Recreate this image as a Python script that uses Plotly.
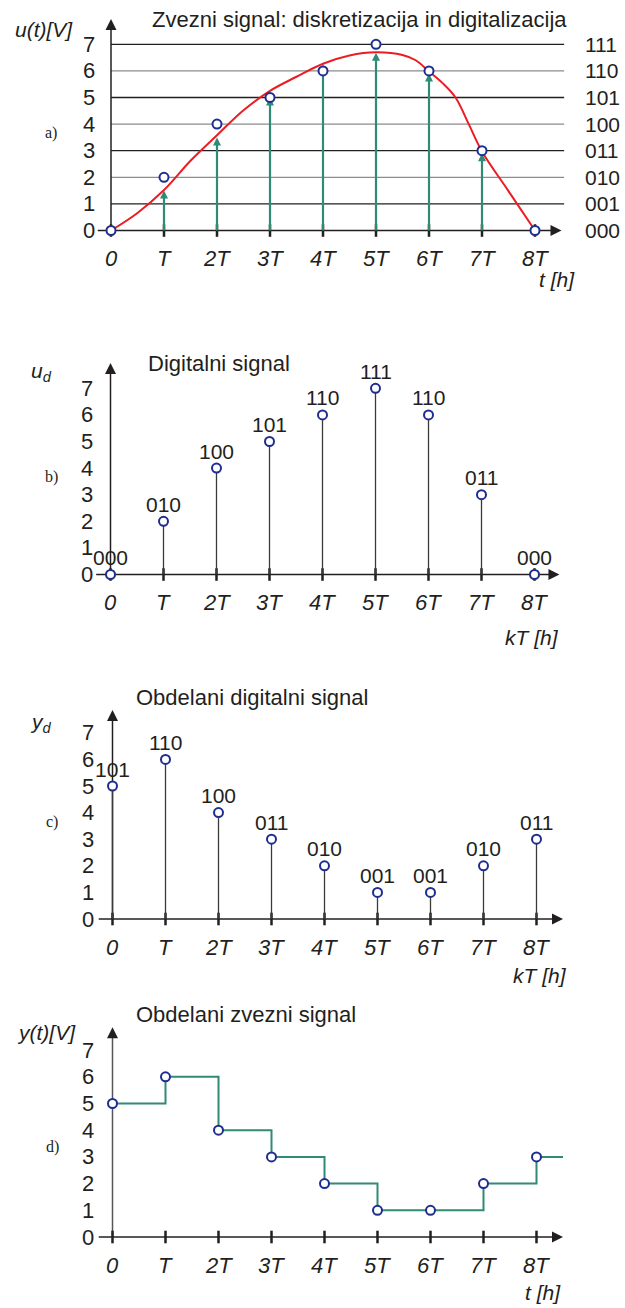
import plotly.graph_objects as go

# ---------------- data ----------------
k_idx = [0, 1, 2, 3, 4, 5, 6, 7, 8]
k_labels = ["0", "T", "2T", "3T", "4T", "5T", "6T", "7T", "8T"]
y_levels = [0, 1, 2, 3, 4, 5, 6, 7]
level_codes = ["000", "001", "010", "011", "100", "101", "110", "111"]

# continuous signal u(t)
curve_t = [0, 0.5, 1, 1.5, 2, 2.5, 3, 3.5, 4, 4.5, 5, 5.5, 5.75, 6, 6.25, 6.5, 6.75, 7, 7.5, 8]
curve_u = [0, 0.66, 1.52, 2.62, 3.58, 4.52, 5.25, 5.78, 6.27, 6.58, 6.7, 6.6, 6.4, 5.98, 5.55, 5.0, 4.0, 2.97, 1.48, 0]

# sampling arrows (tips) in panel a
arrow_k = [1, 2, 3, 4, 5, 6, 7]
arrow_tip = [1.5, 3.5, 5.0, 6.25, 6.68, 5.9, 2.9]

# quantized / digital signal
digital_u = [0, 2, 4, 5, 6, 7, 6, 3, 0]
digital_codes = ["000", "010", "100", "101", "110", "111", "110", "011", "000"]

# processed digital signal
processed_y = [5, 6, 4, 3, 2, 1, 1, 2, 3]
processed_codes = ["101", "110", "100", "011", "010", "001", "001", "010", "011"]

# ---------------- style ----------------
W, H = 625, 1308
FONT = "Liberation Sans, Arial, sans-serif"
SERIF = "Liberation Serif, Times New Roman, serif"
INK = "#231f20"
GRAY = "#8c8c8c"
TEAL = "#2f8a76"
RED = "#ec1c24"
BLUE = "#1f2d8f"

panels = [
    dict(top=0, bot=300, y0=230.5, unit=26.6, x0=111.0),
    dict(top=300, bot=650, y0=574.5, unit=26.6, x0=110.5),
    dict(top=650, bot=990, y0=919.0, unit=26.6, x0=112.5),
    dict(top=990, bot=1308, y0=1237.0, unit=26.7, x0=112.5),
]
XSTEP = 53.0

fig = go.Figure()
layout = dict(width=W, height=H, margin=dict(l=0, r=0, t=0, b=0),
              paper_bgcolor="white", plot_bgcolor="white", showlegend=False)
annotations = []

for i, p in enumerate(panels):
    s = "" if i == 0 else str(i + 1)
    layout["xaxis" + s] = dict(domain=[0, 1], range=[-p["x0"] / XSTEP, (W - p["x0"]) / XSTEP],
                              visible=False, anchor="y" + s, fixedrange=True)
    layout["yaxis" + s] = dict(domain=[1 - p["bot"] / H, 1 - p["top"] / H],
                              range=[(p["y0"] - p["bot"]) / p["unit"], (p["y0"] - p["top"]) / p["unit"]],
                              visible=False, anchor="x" + s, fixedrange=True)


def ax(i):
    s = "" if i == 0 else str(i + 1)
    return dict(xaxis="x" + s, yaxis="y" + s)


def txt(text, px, py, size=22, italic=False, anchor="center", family=FONT):
    t = "<i>%s</i>" % text if italic else text
    annotations.append(dict(text=t, x=px / W, y=1 - py / H, xref="paper", yref="paper",
                            xanchor=anchor, yanchor="middle", showarrow=False,
                            font=dict(family=family, size=size, color=INK)))


def axes(i, ytip, xl=-0.25, xr=8.5, ycolor=INK):
    a = ax(i)
    # y axis
    fig.add_trace(go.Scatter(x=[0, 0], y=[0, ytip - 0.2], mode="lines",
                             line=dict(color=ycolor, width=1.5), hoverinfo="skip", **a))
    fig.add_trace(go.Scatter(x=[0], y=[ytip], mode="markers",
                             marker=dict(symbol="arrow-up", size=11, color=INK), hoverinfo="skip", **a))
    # x axis
    fig.add_trace(go.Scatter(x=[xl, xr - 0.1], y=[0, 0], mode="lines",
                             line=dict(color=INK, width=1.5), hoverinfo="skip", **a))
    fig.add_trace(go.Scatter(x=[xr], y=[0], mode="markers",
                             marker=dict(symbol="arrow-right", size=11, color=INK), hoverinfo="skip", **a))
    # tick marks
    fig.add_trace(go.Scatter(x=k_idx, y=[0] * len(k_idx), mode="markers",
                             marker=dict(symbol="line-ns", size=9, line=dict(color=INK, width=2.5)),
                             hoverinfo="skip", **a))


def tick_labels(i, ylab_px=96, xoff=28):
    s = "" if i == 0 else str(i + 1)
    for v in y_levels:
        annotations.append(dict(text=str(v), x=ylab_px / W, xref="paper", y=v, yref="y" + s,
                                xanchor="right", yanchor="middle", showarrow=False,
                                font=dict(family=FONT, size=22, color=INK)))
    for k, lab in zip(k_idx, k_labels):
        annotations.append(dict(text="<i>%s</i>" % lab, x=k, xref="x" + s, y=0, yref="y" + s,
                                yshift=-xoff, xanchor="center", yanchor="middle", showarrow=False,
                                font=dict(family=FONT, size=22, color=INK)))


def circles(i, xs, ys):
    fig.add_trace(go.Scatter(x=xs, y=ys, mode="markers",
                             marker=dict(symbol="circle", size=9, color="white",
                                         line=dict(color=BLUE, width=2)),
                             cliponaxis=False, hoverinfo="skip", **ax(i)))


def codes_above(i, xs, ys, codes):
    s = "" if i == 0 else str(i + 1)
    for x, y, c in zip(xs, ys, codes):
        annotations.append(dict(text=c, x=x, y=y, xref="x" + s, yref="y" + s, yshift=17,
                                xanchor="center", yanchor="middle", showarrow=False,
                                font=dict(family=FONT, size=21, color=INK)))


# ---------------- panel a ----------------
a0 = ax(0)
for v in y_levels[1:]:
    fig.add_trace(go.Scatter(x=[0, 8.55], y=[v, v], mode="lines",
                             line=dict(color=INK if v % 2 else GRAY, width=1.3),
                             hoverinfo="skip", **a0))
axes(0, 7.95, xl=-0.25, xr=8.5)
fig.add_trace(go.Scatter(x=curve_t, y=curve_u, mode="lines",
                         line=dict(color=RED, width=2, shape="spline", smoothing=1.0),
                         hoverinfo="skip", **a0))
sx, sy = [], []
for k, t in zip(arrow_k, arrow_tip):
    sx += [k, k, None]
    sy += [0, t - 0.25, None]
fig.add_trace(go.Scatter(x=sx, y=sy, mode="lines", line=dict(color=TEAL, width=2.2),
                         hoverinfo="skip", **a0))
fig.add_trace(go.Scatter(x=arrow_k, y=arrow_tip, mode="markers",
                         marker=dict(symbol="arrow-up", size=8, color=TEAL),
                         hoverinfo="skip", **a0))
circles(0, k_idx, digital_u)
tick_labels(0, ylab_px=97)
for v, c in zip(y_levels, level_codes):
    annotations.append(dict(text=c, x=583 / W, xref="paper", y=v, yref="y",
                            xanchor="left", yanchor="middle", showarrow=False,
                            font=dict(family=FONT, size=21, color=INK)))
txt("Zvezni signal: diskretizacija in digitalizacija", 359, 19, size=22)
txt("u(t)[V]", 44, 30, size=21, italic=True)
txt("t [h]", 557, 280, size=21, italic=True)
txt("a)", 51, 133, size=16, family=SERIF)

# ---------------- panel b ----------------
b0 = ax(1)
axes(1, 7.95, xl=-0.27, xr=8.47)
sx, sy = [], []
for k, v in zip(k_idx, digital_u):
    sx += [k, k, None]
    sy += [0, v, None]
fig.add_trace(go.Scatter(x=sx, y=sy, mode="lines", line=dict(color="#3a3a3a", width=1.3),
                         hoverinfo="skip", **b0))
circles(1, k_idx, digital_u)
codes_above(1, k_idx, digital_u, digital_codes)
tick_labels(1, ylab_px=95)
txt("Digitalni signal", 219, 363, size=22)
txt("u<sub>d</sub>", 41, 372, size=21, italic=True)
txt("kT [h]", 532, 638, size=21, italic=True)
txt("b)", 51, 477, size=16, family=SERIF)

# ---------------- panel c ----------------
c0 = ax(2)
axes(2, 7.86, xl=-0.26, xr=8.5)
sx, sy = [], []
for k, v in zip(k_idx, processed_y):
    sx += [k, k, None]
    sy += [0, v, None]
fig.add_trace(go.Scatter(x=sx, y=sy, mode="lines", line=dict(color="#3a3a3a", width=1.3),
                         hoverinfo="skip", **c0))
circles(2, k_idx, processed_y)
codes_above(2, k_idx, processed_y, processed_codes)
tick_labels(2, ylab_px=96)
txt("Obdelani digitalni signal", 252, 697, size=22)
txt("y<sub>d</sub>", 41, 723, size=21, italic=True)
txt("kT [h]", 540, 975, size=21, italic=True)
txt("c)", 52, 822, size=16, family=SERIF)

# ---------------- panel d ----------------
d0 = ax(3)
axes(3, 7.86, xl=-0.26, xr=8.5, ycolor="#555555")
hold_x = k_idx + [8.5]
hold_y = processed_y + [processed_y[-1]]
fig.add_trace(go.Scatter(x=hold_x, y=hold_y, mode="lines",
                         line=dict(color=TEAL, width=2, shape="hv"), hoverinfo="skip", **d0))
circles(3, k_idx, processed_y)
tick_labels(3, ylab_px=96)
txt("Obdelani zvezni signal", 246, 1014, size=22)
txt("y(t)[V]", 46, 1032, size=21, italic=True)
txt("t [h]", 543, 1292, size=21, italic=True)
txt("d)", 52, 1147, size=16, family=SERIF)

layout["annotations"] = annotations
fig.update_layout(**layout)
fig.write_html("out.html", config={"displayModeBar": False, "staticPlot": True},
               post_script="document.body.style.margin='0';document.body.style.overflow='hidden';")
